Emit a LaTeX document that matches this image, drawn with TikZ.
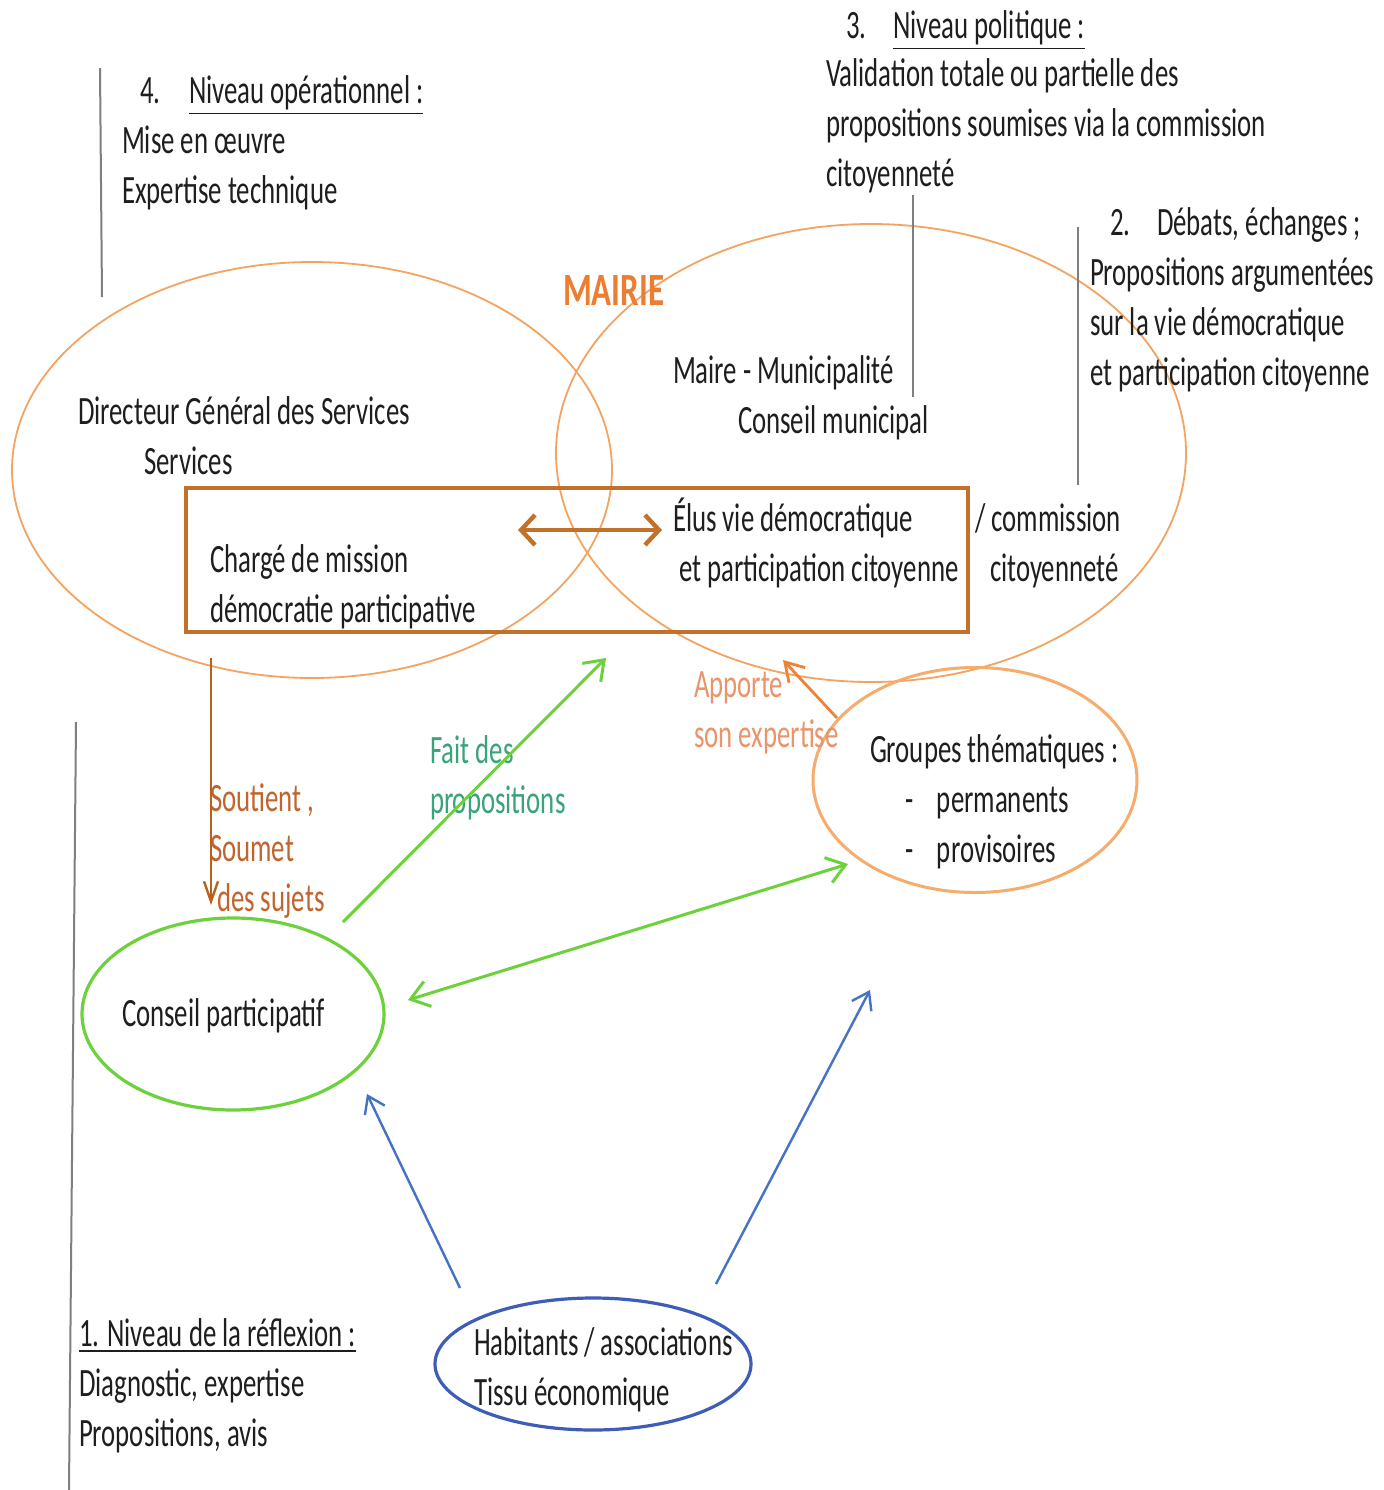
\documentclass[tikz,border=0pt]{standalone}
\usepackage{fontspec}
\setmainfont{Carlito}
\usepackage{graphicx}
\usetikzlibrary{shapes.geometric,arrows.meta}
\definecolor{txtc}{HTML}{1E1E1E}
\definecolor{orac}{HTML}{F2A460}
\definecolor{grpc}{HTML}{F5AC6C}
\definecolor{mairiec}{HTML}{ED7D31}
\definecolor{brownc}{HTML}{C2712A}
\definecolor{downc}{HTML}{B9611A}
\definecolor{soutc}{HTML}{C0652E}
\definecolor{greenc}{HTML}{6CD13A}
\definecolor{faitc}{HTML}{3AA37A}
\definecolor{appc}{HTML}{E9946A}
\definecolor{apparc}{HTML}{EE8235}
\definecolor{bluec}{HTML}{4472C4}
\definecolor{blueell}{HTML}{3D5DB8}
\definecolor{grayc}{HTML}{7F7F7F}
\newcommand{\tx}[1]{\scalebox{1}[1.5]{\begin{tabular}{@{}l@{}}#1\end{tabular}}}
\begin{document}
\begin{tikzpicture}[x=0.5pt,y=-0.5pt,
  txt/.style={anchor=west,inner sep=0pt,outer sep=0pt,yshift=-1.5pt,text=txtc,font=\fontsize{13.4}{16.67}\selectfont},
  ell/.style={ellipse,inner sep=0pt,outer sep=0pt,draw},
  sepline/.style={draw=grayc,line width=1pt},
  garrow/.style={draw=greenc,line width=1.5pt,-{Straight Barb[length=9pt,width=13pt]}},
  gdouble/.style={draw=greenc,line width=1.5pt,{Straight Barb[length=9pt,width=13pt]}-{Straight Barb[length=9pt,width=13pt]}},
  barrow/.style={draw=bluec,line width=1.2pt,-{Straight Barb[length=8pt,width=11pt]}},
  brdouble/.style={draw=brownc,line width=2.2pt,{Straight Barb[length=7pt,width=15pt]}-{Straight Barb[length=7pt,width=15pt]}},
  downarrow/.style={draw=downc,line width=1.2pt,-{Straight Barb[length=10pt,width=7pt]}},
  apparrow/.style={draw=apparc,line width=1.4pt,-{Straight Barb[length=9pt,width=11pt]}}]
\useasboundingbox[fill=white] (0,0) rectangle (1384,1490);

% ellipses and frame
\node[ell,draw=orac,line width=0.9pt,minimum width=300pt,minimum height=208pt] (eDGS) at (312,470) {};
\node[ell,draw=orac,line width=0.9pt,minimum width=315pt,minimum height=229pt] (eMairie) at (871,453) {};
\node[ell,draw=grpc,line width=1.5pt,minimum width=162pt,minimum height=112.5pt] (eGroupes) at (975,780) {};
\node[ell,draw=greenc,line width=1.6pt,minimum width=151pt,minimum height=96pt] (eConseil) at (233,1014) {};
\node[ell,draw=blueell,line width=1.6pt,minimum width=158pt,minimum height=66pt] (eHab) at (593,1364) {};
\node[draw=brownc,line width=1.6pt,minimum width=391pt,minimum height=72pt,inner sep=0pt] (cadre) at (577,560) {};

% separator lines
\draw[sepline] (100,68) -- (102,297);
\draw[sepline] (913,195) -- (913,397);
\draw[sepline] (1078,227) -- (1078,485);
\draw[sepline] (76,722) -- (69,1490);

% level texts
\node[txt] (n4num) at (140,90) {\tx{4.}};
\node[txt] (n4head) at (189,90) {\tx{\underline{Niveau opérationnel :}}};
\node[txt] (n4body) at (122,165) {\tx{Mise en œuvre\\Expertise technique}};
\node[txt] (n3num) at (846,25) {\tx{3.}};
\node[txt] (n3head) at (893,25) {\tx{\underline{Niveau politique :}}};
\node[txt] (n3body) at (826,123.5) {\tx{Validation totale ou partielle des\\propositions soumises via la commission\\citoyenneté}};
\node[txt] (n2num) at (1110,222) {\tx{2.}};
\node[txt] (n2head) at (1157,222) {\tx{Débats, échanges ;}};
\node[txt] (n2body) at (1090,322) {\tx{Propositions argumentées\\sur la vie démocratique\\et participation citoyenne}};
\node[txt] (n1) at (79,1383.5) {\tx{\underline{1. Niveau de la réflexion :}\\Diagnostic, expertise\\Propositions, avis}};

% main texts
\node[txt,text=mairiec,font=\fontsize{16.5}{20}\selectfont\bfseries] (mairie) at (563,288) {\scalebox{1}[1.4]{MAIRIE}};
\node[txt] (dgs) at (78,436.5) {\tx{Directeur Général des Services\\\hspace*{33pt}Services}};
\node[txt] (maire) at (673,395) {\tx{Maire - Municipalité\\\hspace*{32.5pt}Conseil municipal}};
\node[txt] (charge) at (210,584) {\tx{Chargé de mission\\démocratie participative}};
\node[txt] (elus) at (673,543) {\tx{Élus vie démocratique\\\hspace*{3pt}et participation citoyenne}};
\node[txt] (comm) at (975,543) {\tx{/ commission\\\hspace*{7.5pt}citoyenneté}};
\node[txt] (groupes) at (870,799) {\tx{Groupes thématiques :\\\hspace*{17.5pt}\makebox[16pt][l]{-}permanents\\\hspace*{17.5pt}\makebox[16pt][l]{-}provisoires}};
\node[txt] (conseil) at (122,1013) {\tx{Conseil participatif}};
\node[txt] (hab) at (474,1367) {\tx{Habitants / associations\\Tissu économique}};

% arrow labels
\node[txt,text=soutc] (soutient) at (210,848) {\tx{Soutient ,\\Soumet\\\hspace*{3.5pt}des sujets}};
\node[txt,text=faitc] (fait) at (430,775) {\tx{Fait des\\propositions}};
\node[txt,text=appc] (apporte) at (694,709) {\tx{Apporte\\son expertise}};

% arrow end points
\coordinate (bdL) at (518,530);
\coordinate (bdR) at (662,530);
\coordinate (dTop) at (211,658);
\coordinate (dBot) at (211,905);
\coordinate (fS) at (343,922);
\coordinate (fE) at (606,658);
\coordinate (gdA) at (408,1000);
\coordinate (gdB) at (848,864);
\coordinate (apS) at (837,718);
\coordinate (apE) at (783,660);
\coordinate (b1S) at (460,1288);
\coordinate (b1E) at (367,1094);
\coordinate (b2S) at (716,1284);
\coordinate (b2E) at (870,990);

% connectors
\draw[brdouble] (bdL) -- (bdR);
\draw[downarrow] (dTop) -- (dBot);
\draw[garrow] (fS) -- (fE);
\draw[gdouble] (gdA) -- (gdB);
\draw[apparrow] (apS) -- (apE);
\draw[barrow] (b1S) -- (b1E);
\draw[barrow] (b2S) -- (b2E);
\end{tikzpicture}
\end{document}
